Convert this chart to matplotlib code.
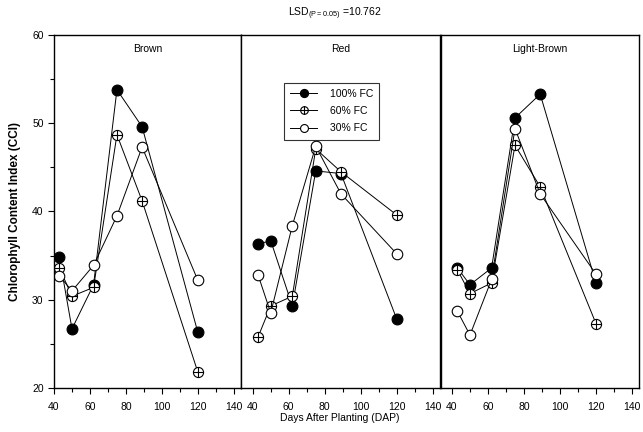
import matplotlib
matplotlib.use("Agg")
import matplotlib.pyplot as plt
from matplotlib.path import Path

plt.rcParams["font.family"] = ["Liberation Sans", "DejaVu Sans"]
plt.rcParams["font.size"] = 7.5

# days after planting (same sampling dates for every variety)
dap = [43, 50, 62, 75, 89, 120]

varieties = ["Brown", "Red", "Light-Brown"]
treatments = ["100% FC", "60% FC", "30% FC"]

# chlorophyll content index
brown_100 = [34.8, 26.7, 31.7, 53.8, 49.6, 26.3]
brown_60 = [33.6, 30.4, 31.4, 48.7, 41.2, 21.8]
brown_30 = [32.7, 31.0, 33.9, 39.5, 47.3, 32.2]

red_100 = [36.3, 36.7, 29.3, 44.6, 44.3, 27.8]
red_60 = [25.8, 29.3, 30.4, 47.1, 44.5, 39.6]
red_30 = [32.8, 28.5, 38.4, 47.4, 42.0, 35.2]

lbrown_100 = [33.6, 31.7, 33.6, 50.6, 53.3, 31.9]
lbrown_60 = [33.4, 30.7, 31.9, 47.5, 42.8, 27.3]
lbrown_30 = [28.7, 26.0, 32.3, 49.4, 42.0, 32.9]

cci = {
    "Brown": [brown_100, brown_60, brown_30],
    "Red": [red_100, red_60, red_30],
    "Light-Brown": [lbrown_100, lbrown_60, lbrown_30],
}

# circle with a cross inside for the 60% FC series
circ = Path.unit_circle()
cross = Path([[-1, 0], [1, 0], [0, -1], [0, 1]],
             [Path.MOVETO, Path.LINETO, Path.MOVETO, Path.LINETO])
circ_plus = Path.make_compound_path(circ, cross)

styles = [
    dict(marker="o", markersize=7.8, markerfacecolor="black", markeredgecolor="black"),
    dict(marker=circ_plus, markersize=7.3, markerfacecolor="white", markeredgecolor="black"),
    dict(marker="o", markersize=7.6, markerfacecolor="white", markeredgecolor="black"),
]

W, H = 643, 432
fig = plt.figure(figsize=(W / 100, H / 100), dpi=100)

# panel boxes in pixels: left, width, x-limits
panels = [
    (54, 187, (40, 144)),
    (241, 199, (33.5, 144)),
    (441, 198, (33.9, 143.9)),
]
top, bottom = 35, 388

axes = []
for i, (name, (left, width, xl)) in enumerate(zip(varieties, panels)):
    ax = fig.add_axes([left / W, 1 - bottom / H, width / W, (bottom - top) / H])
    for j in range(3):
        ax.plot(dap, cci[name][j], color="black", lw=0.7,
                markeredgewidth=0.8, label=treatments[j], **styles[j])
    ax.set_xlim(*xl)
    ax.set_ylim(20, 60)
    ax.set_xticks([40, 60, 80, 100, 120, 140])
    ax.set_xticks(range(50, 150, 20), minor=True)
    ax.tick_params(axis="x", direction="out", length=4, width=0.8, pad=6)
    ax.tick_params(axis="x", which="minor", direction="out", length=3, width=0.8)
    if i == 0:
        ax.set_yticks([20, 30, 40, 50, 60])
        ax.set_yticks([25, 35, 45, 55], minor=True)
        ax.tick_params(axis="y", direction="out", length=4, width=0.8)
        ax.tick_params(axis="y", which="minor", direction="out", length=3, width=0.8)
        ax.set_ylabel("Chlorophyll Content Index (CCI)", fontweight="bold",
                      fontsize=8.5, labelpad=8)
    else:
        ax.set_yticks([])
    for s in ax.spines.values():
        s.set_linewidth(1.0)
    ax.text(0.5, 0.975, name, transform=ax.transAxes, ha="center", va="top",
            fontsize=7.5)
    axes.append(ax)

axes[1].legend(loc="upper center", bbox_to_anchor=(0.455, 0.88), frameon=True,
               fancybox=False, edgecolor="black", fontsize=7.5, handlelength=2.6,
               borderpad=0.6, labelspacing=0.7, handletextpad=1.2,
               markerscale=0.75)
axes[1].get_legend().get_frame().set_linewidth(0.8)

fig.text(340 / W, 1 - 418 / H, "Days After Planting (DAP)", ha="center",
         va="center", fontsize=7.5)
fig.text(335 / W, 1 - 14 / H, r"LSD$_{\mathregular{(P=0.05)}}$ =10.762",
         ha="center", va="center", fontsize=7.5)

fig.savefig("out.png", dpi=100)
